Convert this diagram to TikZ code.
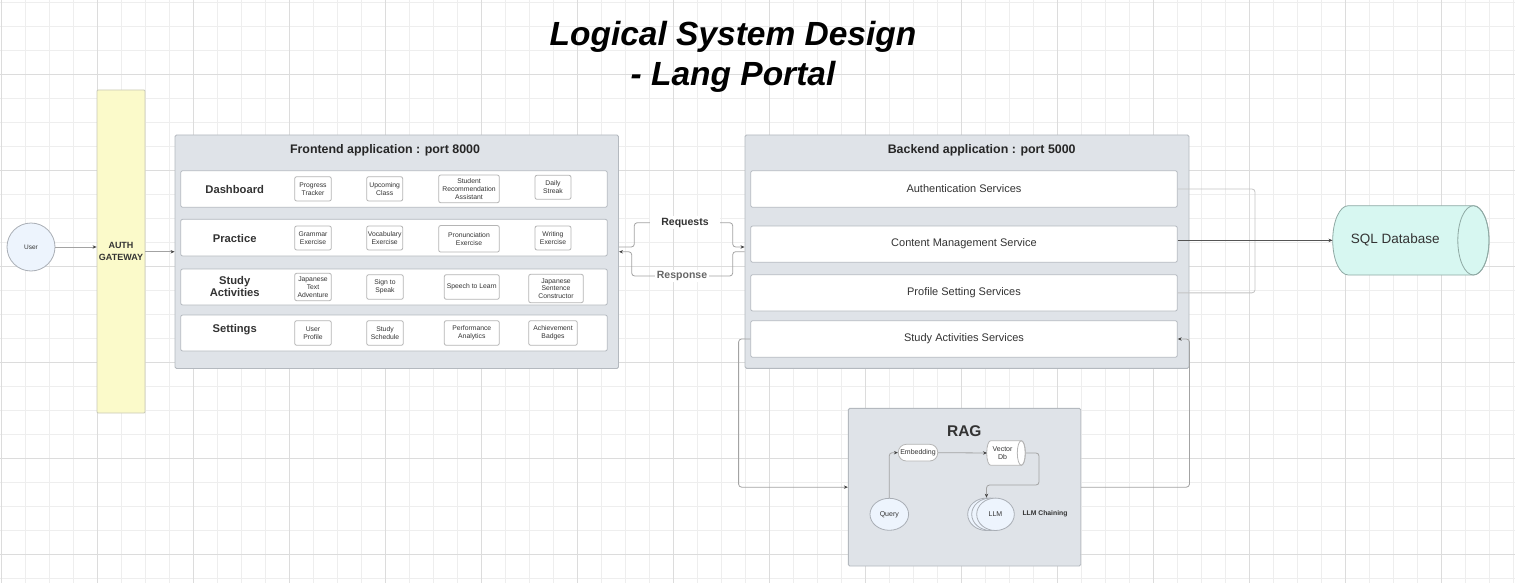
\documentclass[tikz,border=0pt]{standalone}
\usepackage{fontspec}
\setmainfont{Liberation Sans}
\usetikzlibrary{arrows.meta,calc,shapes.geometric}
\definecolor{gridminor}{HTML}{EEEEEE}
\definecolor{gridmajor}{HTML}{DCDCDC}
\definecolor{boxfill}{HTML}{DFE3E8}
\definecolor{boxline}{HTML}{B4B9BF}
\definecolor{itemline}{HTML}{B5B5B5}
\definecolor{userfill}{HTML}{EDF4FD}
\definecolor{userline}{HTML}{A9AEB5}
\definecolor{authfill}{HTML}{FBFACA}
\definecolor{authline}{HTML}{C9C9B8}
\definecolor{dbfill}{HTML}{D7F7F1}
\definecolor{dbline}{HTML}{8FA9A4}
\definecolor{linecol}{HTML}{A3A3A3}
\definecolor{lightline}{HTML}{C4C4C4}
\definecolor{darkline}{HTML}{555555}
\definecolor{tipcol}{HTML}{444444}
\definecolor{txt}{HTML}{333333}
\begin{document}
\begin{tikzpicture}[x=1pt,y=-1pt,
  container/.style={draw=boxline, fill=boxfill, line width=0.9pt, rounded corners=1.5pt, inner sep=0pt},
  rowbox/.style={draw=boxline, fill=white, line width=0.8pt, rounded corners=2pt, inner sep=0pt, minimum width=426.6pt},
  item/.style={draw=itemline, fill=white, line width=0.8pt, rounded corners=2pt, inner sep=0pt, align=center, font=\fontsize{6.8}{7.8}\selectfont, text=txt},
  rowlabel/.style={font=\bfseries\fontsize{11.2}{12.7}\selectfont, align=center, text=txt, inner sep=0pt},
  svc/.style={rowbox, font=\fontsize{11}{13}\selectfont, text=txt},
  apptitle/.style={font=\bfseries\fontsize{12.4}{14}\selectfont, text=black!85, inner sep=0pt},
  small/.style={font=\fontsize{7}{8}\selectfont, text=txt, align=center, inner sep=0pt},
  conn/.style={draw=linecol, line width=0.8pt, rounded corners=3pt},
  arr/.style={conn, -{Stealth[length=4pt,width=3.4pt,color=tipcol]}},
  lbl/.style={fill=white, inner ysep=1.5pt, font=\bfseries\fontsize{10.5}{12}\selectfont}
]
\useasboundingbox (0,0) rectangle (1515,583);
\fill[white] (0,0) rectangle (1515,583);
% grid
\foreach \k in {0,...,63} {\draw[gridminor, line width=0.9pt] ({1.3+24*\k},0) -- ({1.3+24*\k},583);}
\foreach \k in {0,...,24} {\draw[gridminor, line width=0.9pt] (0,{2.3+24*\k}) -- (1515,{2.3+24*\k});}
\foreach \k in {0,...,15} {\draw[gridmajor, line width=0.9pt] ({1.3+96*\k},0) -- ({1.3+96*\k},583);}
\foreach \k in {0,...,5} {\draw[gridmajor, line width=0.9pt] (0,{74.3+96*\k}) -- (1515,{74.3+96*\k});}

% title
\node[font=\bfseries\itshape\fontsize{33.5}{40}\selectfont, align=center, inner sep=0pt, text=black] (title) at (733,56.5) {Logical System Design\\- Lang Portal};

% user and gateway
\node[circle, draw=userline, fill=userfill, line width=0.8pt, minimum size=48pt, inner sep=0pt, font=\fontsize{6.5}{8}\selectfont, text=txt] (user) at (31,247) {User};
\node[draw=authline, fill=authfill, line width=0.8pt, rounded corners=1pt, minimum width=48pt, minimum height=323pt, inner sep=0pt, align=center, font=\bfseries\fontsize{9}{11.5}\selectfont, text=txt] (auth) at (121,251.5) {AUTH\\GATEWAY};

% frontend
\node[container, minimum width=443.5pt, minimum height=233.5pt] (fe) at (396.75,251.75) {};
\node[apptitle] (fetitle) at (385,150.5) {Frontend application : port 8000};
\node[rowbox, minimum height=36.6pt] (r1) at (394,189) {};
\node[rowbox, minimum height=36.7pt] (r2) at (394,237.65) {};
\node[rowbox, minimum height=36pt] (r3) at (394,287) {};
\node[rowbox, minimum height=36pt] (r4) at (394,333) {};
\node[rowlabel] (l1) at (234.7,189.3) {Dashboard};
\node[rowlabel] (l2) at (234.7,238.3) {Practice};
\node[rowlabel] (l3) at (234.7,286.4) {Study\\Activities};
\node[rowlabel] (l4) at (234.7,330) {Settings};

\node[item, minimum width=36.6pt, minimum height=24.3pt] (d1) at (313,188.85) {Progress\\Tracker};
\node[item, minimum width=36pt, minimum height=24.3pt] (d2) at (384.7,188.85) {Upcoming\\Class};
\node[item, minimum width=60.6pt, minimum height=27.7pt] (d3) at (469,188.85) {Student\\Recommendation\\Assistant};
\node[item, minimum width=36pt, minimum height=24pt] (d4) at (553,187.3) {Daily\\Streak};

\node[item, minimum width=36.6pt, minimum height=24pt] (p1) at (313,238) {Grammar\\Exercise};
\node[item, minimum width=36pt, minimum height=24pt] (p2) at (384.7,238) {Vocabulary\\Exercise};
\node[item, minimum width=60.6pt, minimum height=26.5pt] (p3) at (469,238.8) {Pronunciation\\Exercise};
\node[item, minimum width=36pt, minimum height=24pt] (p4) at (553,238) {Writing\\Exercise};

\node[item, minimum width=36.6pt, minimum height=27.4pt] (s1) at (313,287) {Japanese\\Text\\Adventure};
\node[item, minimum width=36.6pt, minimum height=24.6pt] (s2) at (385,287) {Sign to\\Speak};
\node[item, minimum width=55pt, minimum height=24.6pt] (s3) at (471.8,287) {Speech to Learn};
\node[item, minimum width=54.6pt, minimum height=28.4pt] (s4) at (556,288.5) {Japanese\\Sentence\\Constructor};

\node[item, minimum width=36.6pt, minimum height=24.6pt] (t1) at (313,333) {User\\Profile};
\node[item, minimum width=36.6pt, minimum height=24.6pt] (t2) at (385,333) {Study\\Schedule};
\node[item, minimum width=55pt, minimum height=24.6pt] (t3) at (471.8,333) {Performance\\Analytics};
\node[item, minimum width=48.6pt, minimum height=24.6pt] (t4) at (553,333) {Achievement\\Badges};

% backend
\node[container, minimum width=444pt, minimum height=233.3pt] (be) at (967,251.65) {};
\node[apptitle] (betitle) at (981.7,150.7) {Backend application : port 5000};
\node[svc, minimum height=36.6pt] (bau) at (964,189) {Authentication Services};
\node[svc, minimum height=36.3pt] (bcm) at (964,244.15) {Content Management Service};
\node[svc, minimum height=36.3pt] (bps) at (964,292.85) {Profile Setting Services};
\node[svc, minimum height=36.6pt] (bsa) at (964,339) {Study Activities Services};

% SQL database cylinder
\draw[fill=dbfill, draw=dbline, line width=0.8pt] (1473.4,205.7) -- (1348.3,205.7)
  arc[start angle=270, end angle=90, x radius=15.6, y radius=34.65] -- (1473.4,275)
  arc[start angle=90, end angle=-90, x radius=15.6, y radius=34.65] -- cycle;
\draw[draw=dbline, line width=0.8pt] (1473.4,240.35) ellipse[x radius=15.6, y radius=34.65];
\node[minimum width=125.1pt, minimum height=69.3pt, inner sep=0pt, font=\fontsize{13.5}{15}\selectfont, text=txt] (sql) at (1395.25,240.35) {SQL Database};

% RAG
\node[container, minimum width=232.4pt, minimum height=157.7pt] (rag) at (964.5,487.15) {};
\node[font=\bfseries\fontsize{15.5}{17}\selectfont, text=txt, inner sep=0pt] (ragtitle) at (964.3,430.7) {RAG};
\node[draw=itemline, fill=white, line width=0.8pt, rounded corners=8pt, minimum width=39.4pt, minimum height=16.7pt, inner sep=0pt, font=\fontsize{7}{8}\selectfont, text=txt] (emb) at (918,452.65) {Embedding};
\draw[fill=white, draw=itemline, line width=0.8pt] (1021.3,440.7) -- (990.7,440.7)
  arc[start angle=270, end angle=90, x radius=4, y radius=12.3] -- (1021.3,465.3)
  arc[start angle=90, end angle=-90, x radius=4, y radius=12.3] -- cycle;
\draw[draw=itemline, line width=0.8pt] (1021.3,453) ellipse[x radius=4, y radius=12.3];
\node[small, minimum width=30.6pt, minimum height=24.6pt] (vdb) at (1002.5,453) {Vector\\Db};
\node[ellipse, draw=userline, fill=userfill, line width=0.8pt, minimum width=38.6pt, minimum height=32pt, inner sep=0pt, font=\fontsize{7}{8}\selectfont, text=txt] (query) at (889.3,514.3) {Query};
\node[ellipse, draw=userline, fill=userfill, line width=0.8pt, minimum width=37.6pt, minimum height=32.4pt, inner sep=0pt] (llm3) at (986.5,514.3) {};
\node[ellipse, draw=userline, fill=userfill, line width=0.8pt, minimum width=37.6pt, minimum height=32.4pt, inner sep=0pt] (llm2) at (990.5,514.3) {};
\node[ellipse, draw=userline, fill=userfill, line width=0.8pt, minimum width=37.6pt, minimum height=32.4pt, inner sep=0pt, font=\fontsize{7}{8}\selectfont, text=txt] (llm1) at (995.5,514.3) {LLM};
\node[font=\bfseries\fontsize{6.8}{8}\selectfont, text=txt, inner sep=0pt] (chain) at (1045,513.7) {LLM Chaining};

% connectors
\draw[arr] (user.east) -- (user.east -| auth.west);
\draw[arr] (auth.east |- fe.west) -- (fe.west);

\coordinate (rq1) at (634.3,222.7);
\coordinate (rq2) at (732.7,222.7);
\coordinate (rs1) at (732.7,276);
\coordinate (rs2) at (631.7,276);
\draw[arr] ($(fe.east)+(0,-4.75)$) -| (rq1) -- (rq2) |- ($(be.west)+(0,-4.65)$);
\draw[arr] (be.west) -| (rs1) -- (rs2) |- (fe.east);
\node[lbl, inner xsep=11.5pt, text=txt] (reqlbl) at (685,222.7) {Requests};
\node[lbl, inner xsep=2pt, text=black!60] (reslbl) at (682,276) {Response};

\coordinate (dbj) at (1255,240.35);
\draw[conn, draw=lightline] (bau.east) -| (dbj);
\draw[conn, draw=lightline] (bps.east) -| (dbj);
\draw[arr, draw=darkline] (bcm.east |- sql.west) -- (sql.west);

\draw[arr] (bsa.west) -- ++(-11.7,0) |- (rag.west);
\draw[arr] (rag.east) -- (rag.east -| be.east) |- (bsa.east);

\draw[arr] (query.north) |- (emb.west);
\draw[arr] (emb.east) -- (vdb.west);
\draw[arr] ($(vdb.east)+(8,0)$) -| (1039,485) -| (llm3.north);
\end{tikzpicture}
\end{document}
